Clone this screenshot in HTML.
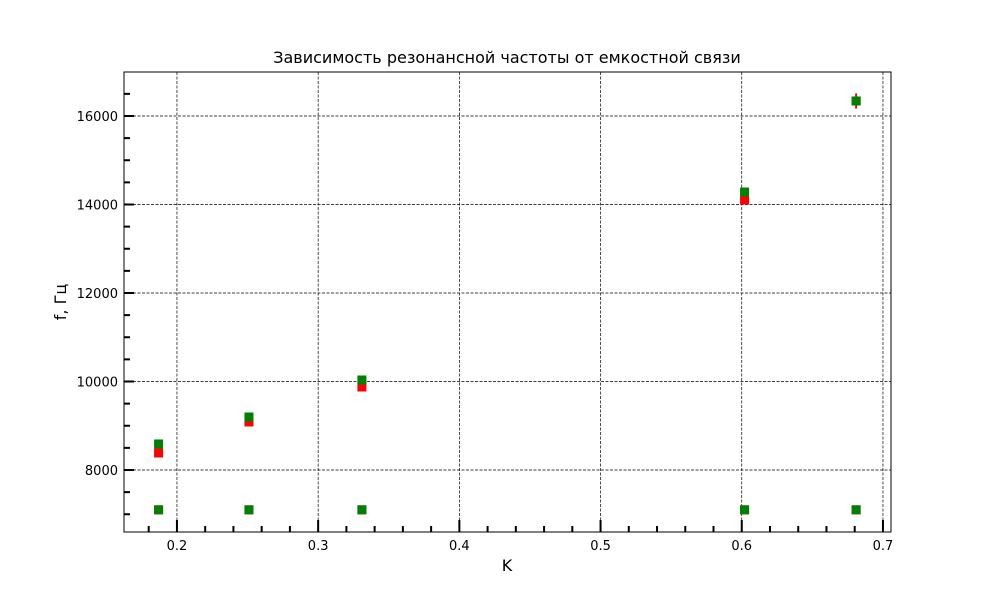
<!DOCTYPE html>
<html><head><meta charset="utf-8"><style>body{margin:0;background:#fff}svg{display:block;font-family:"DejaVu Sans","Liberation Sans",sans-serif}</style></head>
<body>
<svg id="chart" width="990" height="598" xmlns="http://www.w3.org/2000/svg">
<text x="507" y="63" font-size="16" text-anchor="middle">Зависимость резонансной частоты от емкостной связи</text>
<text x="507" y="571" font-size="16" text-anchor="middle">K</text>
<text x="66" y="302" font-size="16" text-anchor="middle" transform="rotate(-90 66 302)">f, Гц</text>
<g id="grid"></g><g id="ticks"></g><g id="marks"></g>
<rect x="124" y="72" width="767" height="460" fill="none" stroke="#000" stroke-width="1"/>
</svg>
<script>
const kValues=[0.187,0.251,0.331,0.602,0.681];
const redF=[8384,9085,9876,14102,16339];
const greenF=[8588,9198,10034,14282,16339];
const baseF=[7100,7100,7100,7100,7100];
const redErr=[0,0,0,0,170];
const xTicks=[0.2,0.3,0.4,0.5,0.6,0.7];
const yTicks=[8000,10000,12000,14000,16000];
const L=124,R=891,T=72,B=532,xmin=0.1625,xmax=0.7057,ymin=6599,ymax=16994;
const X=v=>L+(v-xmin)/(xmax-xmin)*(R-L);
const Y=v=>B-(v-ymin)/(ymax-ymin)*(B-T);
const NS="http://www.w3.org/2000/svg";
function mk(p,t,a){const e=document.createElementNS(NS,t);for(const k in a)e.setAttribute(k,a[k]);document.getElementById(p).appendChild(e);return e;}
xTicks.forEach(v=>{
 const g=mk('grid','line',{x1:X(v),x2:X(v),y1:T,y2:B,stroke:'#000','stroke-width':0.7,'stroke-dasharray':'3,1.5'});
 
 const t=mk('ticks','line',{x1:X(v),x2:X(v),y1:B,y2:B-12,stroke:'#000','stroke-width':2});
 
 const l=mk('ticks','text',{x:X(v),y:B+18,'font-size':13,'text-anchor':'middle'});l.textContent=String(v);
 
});
for(let v=0.18;v<=0.70;v+=0.02){const vv=Math.round(v*100)/100;if(xTicks.some(t=>Math.abs(t-vv)<1e-6))continue;
 const t=mk('ticks','line',{x1:X(vv),x2:X(vv),y1:B,y2:B-6,stroke:'#000','stroke-width':2});
 }
yTicks.forEach(v=>{
 const g=mk('grid','line',{x1:L,x2:R,y1:Y(v),y2:Y(v),stroke:'#000','stroke-width':0.7,'stroke-dasharray':'3,1.5'});
 
 const t=mk('ticks','line',{x1:L,x2:L+10,y1:Y(v),y2:Y(v),stroke:'#000','stroke-width':2});
 
 const l=mk('ticks','text',{x:L-6,y:Y(v)+5,'font-size':13,'text-anchor':'end'});l.textContent=String(v);
 
});
for(let v=7000;v<=16500;v+=500){if(v%2000===0)continue;
 const t=mk('ticks','line',{x1:L,x2:L+6,y1:Y(v),y2:Y(v),stroke:'#000','stroke-width':2});
 }
function sq(x,y,c,name){const r=mk('marks','rect',{x:X(x)-4.5,y:Y(y)-4.5,width:9,height:9,fill:c});
 }
kValues.forEach((k,i)=>{
 if(redErr[i]>0){const e=mk('marks','line',{x1:X(k),x2:X(k),y1:Y(redF[i]-redErr[i]),y2:Y(redF[i]+redErr[i]),stroke:'red','stroke-width':2});
  }
 sq(k,redF[i],'red','red-point');
 sq(k,greenF[i],'green','green-point');
 sq(k,baseF[i],'red','red-base-point');
 sq(k,baseF[i],'green','green-base-point');
});
</script>
</body></html>
